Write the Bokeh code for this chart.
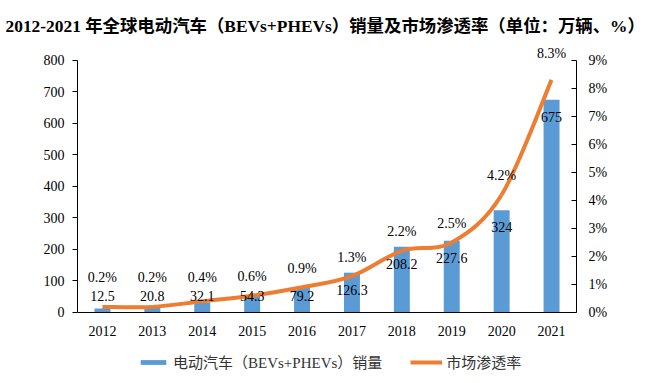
from bokeh.plotting import figure
from bokeh.models import (Range1d, LinearAxis, FixedTicker, Legend, LegendItem, Span)
from bokeh.core.properties import value
from bokeh.embed import file_html
from bokeh.resources import INLINE

# ---- data ----
years = [2012, 2013, 2014, 2015, 2016, 2017, 2018, 2019, 2020, 2021]
year_labels = ["2012", "2013", "2014", "2015", "2016", "2017", "2018", "2019", "2020", "2021"]
sales = [12.5, 20.8, 32.1, 54.3, 79.2, 126.3, 208.2, 227.6, 324, 675]
share = [0.2, 0.2, 0.4, 0.6, 0.9, 1.3, 2.2, 2.5, 4.2, 8.3]
sales_labels = ["12.5", "20.8", "32.1", "54.3", "79.2", "126.3", "208.2", "227.6", "324", "675"]
share_labels = ["0.2%", "0.2%", "0.4%", "0.6%", "0.9%", "1.3%", "2.2%", "2.5%", "4.2%", "8.3%"]
left_ticks = [0, 100, 200, 300, 400, 500, 600, 700, 800]
right_ticks = [0, 1, 2, 3, 4, 5, 6, 7, 8, 9]

title_text = "2012-2021 年全球电动汽车（BEVs+PHEVs）销量及市场渗透率（单位：万辆、%）"
bar_name = "电动汽车（BEVs+PHEVs）销量"
line_name = "市场渗透率"

BLUE = "#5B9BD5"
ORANGE = "#ED7D31"
SERIF = "Liberation Serif, Noto Sans CJK SC"
MIX = "Liberation Serif, Noto Sans CJK SC"

# frame extends below zero so that the legend can sit inside it
Y_TOP = 850
Y_BOT = -225.2
PCT_TOP = 9 * Y_TOP / 800
PCT_BOT = 9 * Y_BOT / 800

p = figure(frame_width=499, frame_height=339, width=648, height=383,
           min_border_left=77, min_border_right=72, min_border_top=44, min_border_bottom=0,
           x_range=Range1d(2011.5, 2021.5), y_range=Range1d(Y_BOT, Y_TOP),
           output_backend="svg", toolbar_location=None, tools="")
p.extra_y_ranges = {"pct": Range1d(PCT_BOT, PCT_TOP)}
p.outline_line_color = None
p.grid.visible = False
p.background_fill_color = "white"
p.border_fill_color = "white"

# title
p.title.text = title_text
p.title.text_font = MIX
p.title.text_font_size = "17.4px"
p.title.text_font_style = "bold"
p.title.text_color = "black"
p.title.align = "left"
p.title.offset = -72
p.title.standoff = 18

# bars
bars = p.vbar(x=years, top=sales, bottom=0, width=0.32, fill_color=BLUE, line_color=None)

# smooth line via cubic bezier segments (Catmull-Rom style control points)
n = len(years)
x0, y0, x1, y1, cx0, cy0, cx1, cy1 = [], [], [], [], [], [], [], []
for i in range(n - 1):
    pm = i - 1 if i > 0 else i
    pp = i + 2 if i + 2 < n else i + 1
    x0.append(years[i]); y0.append(share[i])
    x1.append(years[i + 1]); y1.append(share[i + 1])
    cx0.append(years[i] + (years[i + 1] - years[pm]) / 6)
    cy0.append(share[i] + (share[i + 1] - share[pm]) / 6)
    cx1.append(years[i + 1] - (years[pp] - years[i]) / 6)
    cy1.append(share[i + 1] - (share[pp] - share[i]) / 6)
line = p.bezier(x0=x0, y0=y0, x1=x1, y1=y1, cx0=cx0, cy0=cy0, cx1=cx1, cy1=cy1,
                line_color=ORANGE, line_width=4, y_range_name="pct")

# data labels (placed relative to their own values)
p.text(x=years, y=[max(v - 54, 51) for v in sales], text=sales_labels,
       text_align="center", text_baseline="middle", text_font_size="14px",
       text_color="black", text_font=value(SERIF))
p.text(x=years, y=[max(s, 0.57) + (0.68 if s < 8 else 0.95) for s in share], text=share_labels,
       text_align="center", text_baseline="middle", text_font_size="14px",
       text_color="black", text_font=value(SERIF), y_range_name="pct")

# category axis at zero: baseline + year labels
p.xaxis.visible = False
p.add_layout(Span(location=0, dimension="width", line_color="black", line_width=1))
p.text(x=years, y=[-60] * len(years), text=year_labels,
       text_align="center", text_baseline="middle", text_font_size="14px",
       text_color="black", text_font=value(SERIF))

ya = p.yaxis[0]
ya.ticker = FixedTicker(ticks=left_ticks)
ya.bounds = (0, 800)
ya.minor_tick_line_color = None
ya.major_tick_out = 5
ya.major_tick_in = 0
ya.major_label_standoff = 8
ya.major_label_text_font = SERIF
ya.major_label_text_font_size = "14px"
ya.major_label_text_color = "black"
ya.axis_line_color = "black"
ya.major_tick_line_color = "black"

ra = LinearAxis(y_range_name="pct", ticker=FixedTicker(ticks=right_ticks))
ra.bounds = (0, 9)
ra.major_label_overrides = {t: f"{t}%" for t in right_ticks}
ra.minor_tick_line_color = None
ra.major_tick_out = 0
ra.major_tick_in = 5
ra.major_label_standoff = 12
ra.major_label_text_font = SERIF
ra.major_label_text_font_size = "14px"
ra.major_label_text_color = "black"
ra.axis_line_color = "black"
ra.major_tick_line_color = "black"
p.add_layout(ra, "right")

legend = Legend(items=[LegendItem(label=bar_name, renderers=[bars]),
                       LegendItem(label=line_name, renderers=[line])],
                orientation="horizontal", location=(60, 11),
                glyph_width=32, glyph_height=6, label_standoff=4, spacing=28,
                label_text_font=MIX, label_text_font_size="15px", label_text_color="#333333",
                border_line_color=None, background_fill_alpha=0, padding=0, margin=0)
p.add_layout(legend, "center")

open("out.html", "w").write(file_html(p, INLINE))
